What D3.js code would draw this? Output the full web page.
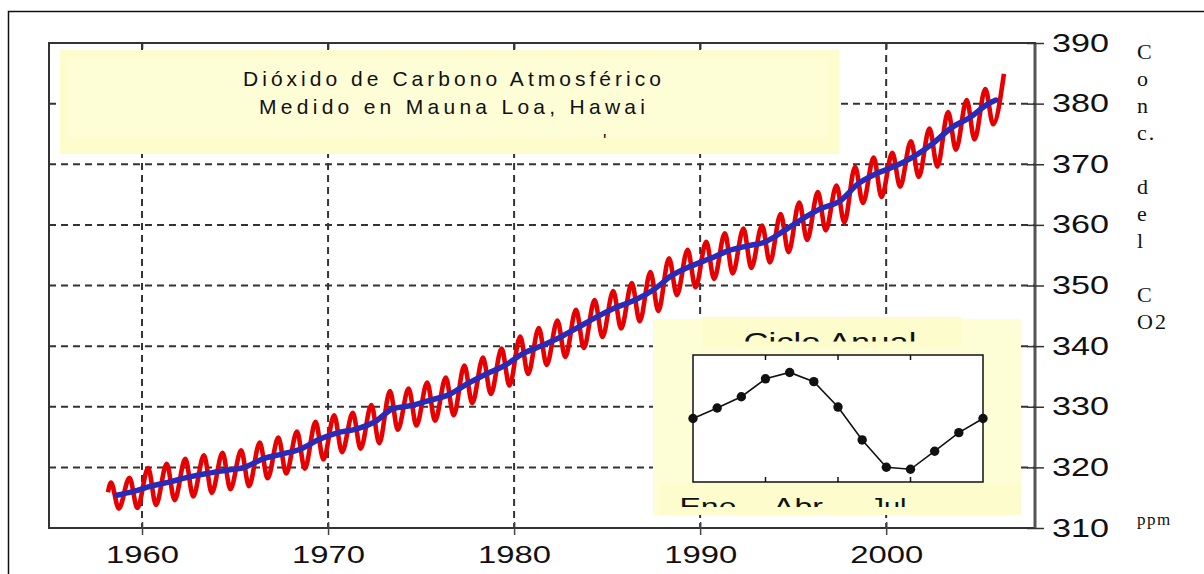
<!DOCTYPE html>
<html lang="es">
<head>
<meta charset="UTF-8" />
<title>Dióxido de Carbono Atmosférico - Mauna Loa</title>
<script src="https://d3js.org/d3.v7.min.js"></script>
<style>
  body { margin: 0; background: #fff; }
  svg { display: block; }
</style>
</head>
<body>
<svg id="chart" width="1204" height="574"></svg>
<script>
// ---- data ----
const years = [1958, 1959, 1960, 1961, 1962, 1963, 1964, 1965, 1966, 1967,
  1968, 1969, 1970, 1971, 1972, 1973, 1974, 1975, 1976, 1977,
  1978, 1979, 1980, 1981, 1982, 1983, 1984, 1985, 1986, 1987,
  1988, 1989, 1990, 1991, 1992, 1993, 1994, 1995, 1996, 1997,
  1998, 1999, 2000, 2001, 2002, 2003, 2004, 2005, 2006];

// monthly record: spring maximum and autumn minimum of each year (ppm)
const mayPeaks = [317.5, 318.3, 319.9, 320.6, 321.4, 322.0, 322.4, 322.8, 324.1, 324.9,
  325.9, 327.5, 328.6, 329.0, 330.3, 332.6, 333.0, 334.0, 334.8, 336.8,
  338.1, 339.6, 341.6, 343.0, 344.2, 346.0, 347.6, 349.1, 350.4, 352.2,
  354.5, 355.9, 357.2, 358.6, 359.4, 359.9, 361.8, 363.7, 365.4, 366.5,
  369.6, 371.1, 371.9, 373.8, 375.9, 378.6, 380.6, 382.4, 384.9];
const autumnLows = [313.2, 313.3, 313.8, 314.6, 315.2, 315.8, 316.4, 316.9, 318.2, 319.0,
  319.8, 321.3, 322.5, 323.1, 324.0, 326.2, 326.9, 327.7, 328.6, 330.6,
  332.1, 333.5, 335.4, 336.9, 338.2, 339.7, 341.5, 342.9, 344.1, 345.8,
  348.4, 349.7, 351.1, 352.0, 352.9, 353.8, 355.5, 357.5, 359.1, 360.4,
  363.6, 364.6, 366.3, 367.9, 369.6, 372.4, 374.1, 376.6];
const recordStart = [1958.17, 315.9];

// smoothed trend (blue)
const trendTimes = [1958.65, 1959.5, 1960.5, 1961.5, 1962.5, 1963.5, 1964.5, 1965.5, 1966.5, 1967.5,
  1968.5, 1969.5, 1970.5, 1971.5, 1972.5, 1973.5, 1974.5, 1975.5, 1976.5, 1977.5,
  1978.5, 1979.5, 1980.5, 1981.5, 1982.5, 1983.5, 1984.5, 1985.5, 1986.5, 1987.5,
  1988.5, 1989.5, 1990.5, 1991.5, 1992.5, 1993.5, 1994.5, 1995.5, 1996.5, 1997.5,
  1998.5, 1999.5, 2000.5, 2001.5, 2002.5, 2003.5, 2004.5, 2005.5, 2005.9];
const trendValues = [315.4, 316.0, 316.9, 317.6, 318.4, 319.0, 319.5, 320.0, 321.4, 322.2,
  323.0, 324.6, 325.7, 326.3, 327.5, 329.7, 330.2, 331.1, 332.0, 333.8,
  335.4, 336.8, 338.8, 340.1, 341.5, 343.2, 344.9, 346.4, 347.6, 349.3,
  351.7, 353.2, 354.4, 355.7, 356.5, 357.2, 359.0, 361.0, 362.7, 363.9,
  366.8, 368.5, 369.7, 371.3, 373.4, 376.0, 377.7, 380.0, 380.6];

const xTicks = [1960, 1970, 1980, 1990, 2000];
const yTicks = [310, 320, 330, 340, 350, 360, 370, 380, 390];

// inset: annual cycle (deviation from trend, ppm)
const cycleMonths = [0, 1, 2, 3, 4, 5, 6, 7, 8, 9, 10, 11, 12];
const cycleValues = [0.0, 0.66, 1.37, 2.5, 2.9, 2.32, 0.72, -1.35, -3.07, -3.2, -2.06, -0.89, 0.0];
const cycleTicks = [3, 6, 9];
const cycleLabels = ["Ene", "Abr", "Jul"];

const titleLines = ["Dióxido de Carbono Atmosférico", "Medido en Mauna Loa, Hawai"];
const sideLabel = ["C", "o", "n", "c.", "", "d", "e", "l", "", "C", "O2"];

// ---- chart ----
const svg = d3.select("#chart");
const sans = "'Liberation Sans', Arial, sans-serif";
const serif = "'Liberation Serif', 'Times New Roman', serif";
const paper = "#fcfccc";

const x = d3.scaleLinear().domain([1955, 2008]).range([49, 1035]);
const y = d3.scaleLinear().domain([310, 390]).range([528, 43]);

svg.append("rect").attr("width", 1204).attr("height", 574).attr("fill", "#fff");

// outer frame (runs off the right / bottom edge)
svg.append("rect")
  .attr("x", 8.5).attr("y", 11.5).attr("width", 1300).attr("height", 700)
  .attr("fill", "none").attr("stroke", "#111").attr("stroke-width", 1.5);

// grid
const grid = svg.append("g")
  .attr("stroke", "#333").attr("stroke-width", 2).attr("stroke-dasharray", "7,5");
grid.selectAll(".vg").data(xTicks).join("line")
  .attr("x1", d => x(d)).attr("x2", d => x(d))
  .attr("y1", y(390)).attr("y2", y(310));
grid.selectAll(".hg").data(yTicks.slice(1, -1)).join("line")
  .attr("x1", x(1955)).attr("x2", x(2008))
  .attr("y1", d => y(d)).attr("y2", d => y(d));

// title box
svg.append("rect").attr("x", 60).attr("y", 50).attr("width", 779).attr("height", 104).attr("fill", paper);
svg.append("rect").attr("x", 68).attr("y", 57).attr("width", 760).attr("height", 80).attr("fill", "#fdfdd6");
svg.selectAll(".title").data(titleLines).join("text")
  .attr("x", 452).attr("y", (d, i) => 86 + i * 28)
  .attr("text-anchor", "middle")
  .attr("font-family", sans).attr("font-size", 21).attr("fill", "#111")
  .attr("textLength", (d, i) => i === 0 ? 418 : 386)
  .attr("lengthAdjust", "spacing")
  .text(d => d);
svg.append("text").attr("x", 603).attr("y", 147)
  .attr("font-family", sans).attr("font-size", 18).attr("fill", "#111").text("ʹ");

// plot frame
svg.append("rect")
  .attr("x", x(1955)).attr("y", y(390))
  .attr("width", x(2008) - x(1955)).attr("height", y(310) - y(390))
  .attr("fill", "none").attr("stroke", "#333").attr("stroke-width", 2);
svg.append("line")
  .attr("x1", x(2008)).attr("x2", x(2008)).attr("y1", y(390)).attr("y2", y(310))
  .attr("stroke", "#555").attr("stroke-width", 3);

// right axis
const yAxis = svg.append("g")
  .attr("transform", `translate(${x(2008)},0)`)
  .call(d3.axisRight(y).tickValues(yTicks).tickSize(9).tickPadding(8));
yAxis.select(".domain").remove();
yAxis.selectAll(".tick line").attr("x1", -8).attr("stroke", "#333").attr("stroke-width", 1.5);
yAxis.selectAll(".tick text")
  .attr("font-family", sans).attr("font-size", 25).attr("fill", "#111")
  .attr("textLength", 57).attr("lengthAdjust", "spacingAndGlyphs");

// bottom axis
const xAxis = svg.append("g")
  .attr("transform", `translate(0,${y(310)})`)
  .call(d3.axisBottom(x).tickValues(xTicks).tickFormat(d3.format("d")).tickSize(7).tickPadding(11));
xAxis.select(".domain").remove();
xAxis.selectAll(".tick line").attr("y1", -6).attr("stroke", "#444").attr("stroke-width", 1.5);
xAxis.selectAll(".tick text")
  .attr("font-family", sans).attr("font-size", 24).attr("fill", "#111")
  .attr("textLength", 73).attr("lengthAdjust", "spacingAndGlyphs");

// top ticks
const topAxis = svg.append("g")
  .attr("transform", `translate(0,${y(390)})`)
  .call(d3.axisTop(x).tickValues(xTicks).tickSize(-6).tickFormat(""));
topAxis.select(".domain").remove();
topAxis.selectAll(".tick line").attr("stroke", "#333").attr("stroke-width", 1.5);

// monthly record (red)
const record = [{ t: recordStart[0], v: recordStart[1] }];
years.forEach((yr, i) => {
  record.push({ t: yr + 0.33, v: mayPeaks[i] });
  if (autumnLows[i] !== undefined) record.push({ t: yr + 0.75, v: autumnLows[i] });
});
const line = d3.line().x(d => x(d.t)).y(d => y(d.v)).curve(d3.curveMonotoneX);
svg.append("path").datum(record)
  .attr("fill", "none").attr("stroke", "#e60000").attr("stroke-width", 4.6)
  .attr("stroke-linejoin", "round").attr("d", line);

// trend (blue)
const trend = trendTimes.map((t, i) => ({ t: t, v: trendValues[i] }));
svg.append("path").datum(trend)
  .attr("fill", "none").attr("stroke", "#2a2ab8").attr("stroke-width", 5.5)
  .attr("stroke-linecap", "round").attr("d", line);

// ---- inset ----
const ix = d3.scaleLinear().domain([0, 12]).range([693, 983]);
const iy = d3.scaleLinear().domain([-4, 4]).range([482, 355]);
const labelX = d3.scalePoint().domain(cycleLabels).range([708, 888]);

svg.append("rect").attr("x", 653).attr("y", 319).attr("width", 368).attr("height", 196).attr("fill", "#fdfdd6");
svg.append("rect").attr("x", 702).attr("y", 317).attr("width", 259).attr("height", 31).attr("fill", paper);
svg.append("rect").attr("x", 660).attr("y", 483).attr("width", 361).attr("height", 32).attr("fill", paper);

const defs = svg.append("defs");
defs.append("clipPath").attr("id", "clipHead")
  .append("rect").attr("x", 700).attr("y", 317).attr("width", 265).attr("height", 24.5);
defs.append("clipPath").attr("id", "clipFoot")
  .append("rect").attr("x", 660).attr("y", 483).attr("width", 361).attr("height", 24);

svg.append("text").attr("clip-path", "url(#clipHead)")
  .attr("x", 830).attr("y", 351).attr("text-anchor", "middle")
  .attr("font-family", sans).attr("font-size", 26).attr("fill", "#111")
  .attr("textLength", 173).attr("lengthAdjust", "spacingAndGlyphs")
  .text("Ciclo Anual");

svg.append("g").attr("clip-path", "url(#clipFoot)")
  .selectAll("text").data(cycleLabels).join("text")
  .attr("x", d => labelX(d)).attr("y", 515).attr("text-anchor", "middle")
  .attr("font-family", sans).attr("font-size", 24).attr("fill", "#111")
  .attr("textLength", (d, i) => [57, 50, 37][i]).attr("lengthAdjust", "spacingAndGlyphs")
  .text(d => d);

svg.append("rect")
  .attr("x", ix(0)).attr("y", iy(4)).attr("width", ix(12) - ix(0)).attr("height", iy(-4) - iy(4))
  .attr("fill", "#fff").attr("stroke", "#111").attr("stroke-width", 1.5);
const inTicks = svg.append("g").attr("stroke", "#111").attr("stroke-width", 1.5);
inTicks.selectAll(".tt").data(cycleTicks).join("line")
  .attr("x1", d => ix(d)).attr("x2", d => ix(d)).attr("y1", iy(4)).attr("y2", iy(4) + 5);
inTicks.selectAll(".bt").data(cycleTicks).join("line")
  .attr("x1", d => ix(d)).attr("x2", d => ix(d)).attr("y1", iy(-4)).attr("y2", iy(-4) - 5);

const cycle = cycleMonths.map((m, i) => ({ m: m, v: cycleValues[i] }));
svg.append("path").datum(cycle)
  .attr("fill", "none").attr("stroke", "#111").attr("stroke-width", 1.6)
  .attr("d", d3.line().x(d => ix(d.m)).y(d => iy(d.v)));
svg.selectAll(".dot").data(cycle).join("circle")
  .attr("cx", d => ix(d.m)).attr("cy", d => iy(d.v)).attr("r", 4.7).attr("fill", "#111");

// side label
const side = svg.append("text")
  .attr("font-family", serif).attr("font-size", 22).attr("fill", "#111").attr("letter-spacing", 2);
side.selectAll("tspan").data(sideLabel).join("tspan")
  .attr("x", 1137).attr("y", (d, i) => 59 + i * 27)
  .text(d => d);
svg.append("text").attr("x", 1137).attr("y", 525)
  .attr("font-family", serif).attr("font-size", 17).attr("letter-spacing", 1.5).attr("fill", "#111")
  .text("ppm");
</script>
</body>
</html>
